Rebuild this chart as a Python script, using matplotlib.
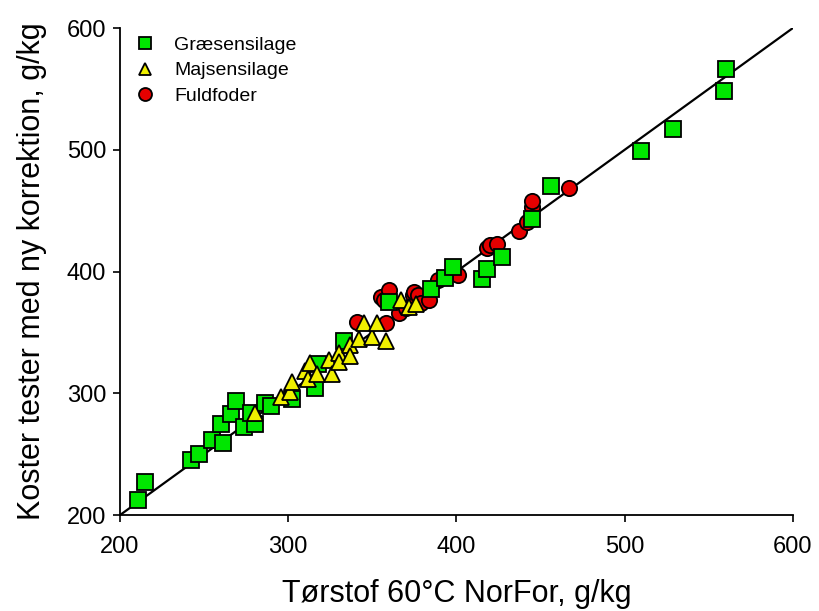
import matplotlib.pyplot as plt

plt.rcParams['font.family'] = ['Liberation Sans', 'DejaVu Sans']

# Græsensilage (green squares)
gras_x = [211, 215, 242, 247, 255, 261, 260, 266, 269, 274, 280, 278, 286, 290,
          302, 316, 318, 333, 360, 385, 393, 398, 415, 418, 427, 445, 456, 510,
          529, 559, 560]
gras_y = [212, 227, 245, 250, 262, 259, 275, 283, 294, 272, 275, 284, 292, 290,
          295, 304, 324, 343, 375, 386, 395, 404, 394, 402, 412, 443, 470, 499,
          517, 548, 566]

# Majsensilage (yellow triangles)
majs_x = [280, 296, 301, 302, 310, 312, 313, 317, 324, 326, 330, 330, 337, 337,
          342, 345, 350, 353, 358, 367, 372, 376]
majs_y = [284, 297, 301, 309, 318, 312, 325, 316, 327, 316, 333, 326, 340, 331,
          345, 358, 346, 358, 343, 377, 371, 373]

# Fuldfoder (red circles)
fuld_x = [341, 355, 358, 357, 360, 366, 370, 374, 375, 377, 379, 384, 389, 401,
          418, 420, 424, 437, 442, 445, 445, 467]
fuld_y = [359, 379, 358, 377, 385, 366, 370, 381, 383, 381, 374, 377, 393, 397,
          419, 422, 423, 433, 441, 453, 458, 469]

fig = plt.figure(figsize=(8.19, 6.11), dpi=100)
ax = fig.add_axes([0.1465, 0.157, 0.8215, 0.797])

ax.plot([200, 600], [200, 600], color='black', lw=1.6, zorder=1)

ms = 11
ax.plot(gras_x, gras_y, 's', color='#00e600', mec='black', mew=1.3, ms=ms,
        label='Græsensilage', zorder=3)
ax.plot(majs_x, majs_y, '^', color='#f0f000', mec='black', mew=1.3, ms=ms,
        label='Majsensilage', zorder=4)
ax.plot(fuld_x, fuld_y, 'o', color='#e60000', mec='black', mew=1.3, ms=ms,
        label='Fuldfoder', zorder=2)

ax.set_xlim(200, 600)
ax.set_ylim(200, 600)
ax.set_xticks([200, 300, 400, 500, 600])
ax.set_yticks([200, 300, 400, 500, 600])
ax.spines['top'].set_visible(False)
ax.spines['right'].set_visible(False)
ax.spines['left'].set_linewidth(1.3)
ax.spines['bottom'].set_linewidth(1.3)
ax.tick_params(axis='both', direction='out', length=5, width=1.2, labelsize=17)
ax.tick_params(axis='x', pad=10)
ax.tick_params(axis='y', pad=5)

ax.set_xlabel('Tørstof 60°C NorFor, g/kg', fontsize=22, labelpad=15)
ax.set_ylabel('Koster tester med ny korrektion, g/kg', fontsize=22, labelpad=14)

ax.legend(loc='upper left', bbox_to_anchor=(-0.015, 1.035), frameon=False,
          fontsize=14, markerscale=0.85, handlelength=1.0, handletextpad=1.0,
          labelspacing=0.4, borderaxespad=0.9)

fig.savefig('out.png', dpi=100)
